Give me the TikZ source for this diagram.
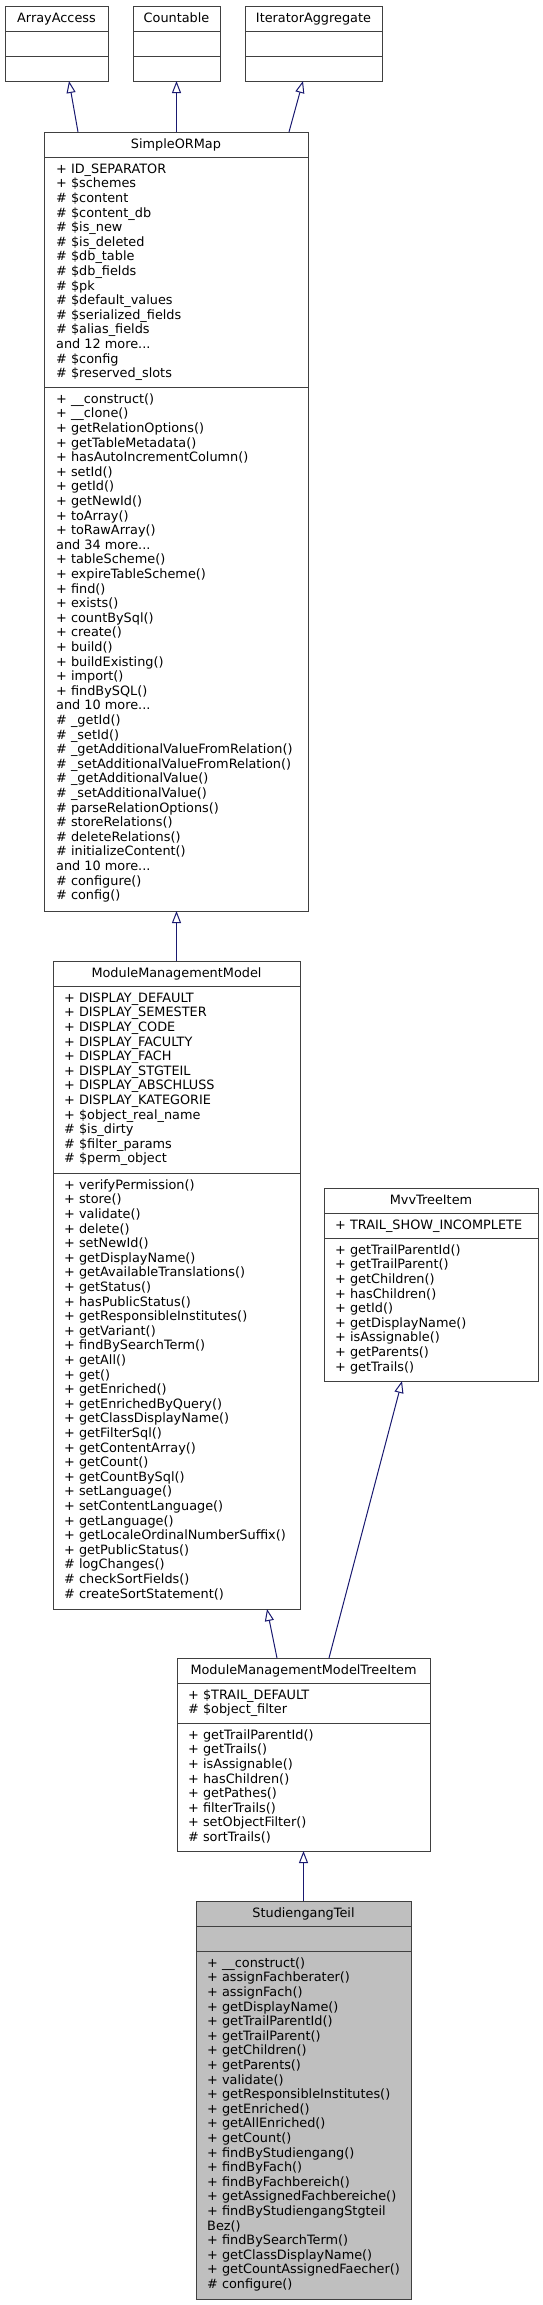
\documentclass[tikz,border=0pt]{standalone}
\usepackage{fontspec}
\setmainfont{DejaVu Sans}
\usetikzlibrary{arrows.meta}

\definecolor{edgeblue}{HTML}{191970}
\definecolor{boxgray}{HTML}{404040}
\definecolor{focusfill}{HTML}{BFBFBF}
\newcommand{\umlfont}{\fontsize{12.85}{14.6}\selectfont}

\tikzset{
  classbox/.style={draw=boxgray, line width=1pt, rectangle, anchor=north west, inner sep=0pt, outer sep=0pt},
  divider/.style={draw=boxgray, line width=1pt},
  classname/.style={anchor=base, inner sep=0pt, font=\umlfont},
  members/.style={anchor=north west, inner sep=0pt, align=left, font=\umlfont},
  inherit/.style={draw=edgeblue, line width=1pt, -{Triangle[open, length=12pt, width=9pt]}},
}

\begin{document}
\begin{tikzpicture}[x=1pt,y=-1pt]
    \useasboundingbox (0,0) rectangle (543,2305);

    % interfaces
    \node[classbox, minimum width=103pt, minimum height=75pt] (aa) at (5,6) {};
    \node[classname] (aa-name) at ([yshift=-16pt]aa.north) {ArrayAccess};
    \draw[divider] ([yshift=-25pt]aa.north west) -- ([yshift=-25pt]aa.north east);
    \draw[divider] ([yshift=-50pt]aa.north west) -- ([yshift=-50pt]aa.north east);

    \node[classbox, minimum width=87pt, minimum height=75pt] (countable) at (133,6) {};
    \node[classname] (countable-name) at ([yshift=-16pt]countable.north) {Countable};
    \draw[divider] ([yshift=-25pt]countable.north west) -- ([yshift=-25pt]countable.north east);
    \draw[divider] ([yshift=-50pt]countable.north west) -- ([yshift=-50pt]countable.north east);

    \node[classbox, minimum width=137pt, minimum height=75pt] (iteragg) at (245,6) {};
    \node[classname] (iteragg-name) at ([yshift=-16pt]iteragg.north) {IteratorAggregate};
    \draw[divider] ([yshift=-25pt]iteragg.north west) -- ([yshift=-25pt]iteragg.north east);
    \draw[divider] ([yshift=-50pt]iteragg.north west) -- ([yshift=-50pt]iteragg.north east);

    % SimpleORMap
    \node[classbox, minimum width=264pt, minimum height=779pt] (sorm) at (44,132) {};
    \node[classname] (sorm-name) at ([yshift=-16pt]sorm.north) {SimpleORMap};
    \draw[divider] ([yshift=-25pt]sorm.north west) -- ([yshift=-25pt]sorm.north east);
    \draw[divider] ([yshift=-255pt]sorm.north west) -- ([yshift=-255pt]sorm.north east);
    \node[members] (sorm-attr) at ([xshift=12pt,yshift=-30.8pt]sorm.north west)
      {\strut+ ID\_SEPARATOR\\+ \$schemes\\\# \$content\\\# \$content\_db\\\# \$is\_new\\
       \# \$is\_deleted\\\# \$db\_table\\\# \$db\_fields\\\# \$pk\\\# \$default\_values\\
       \# \$serialized\_fields\\\# \$alias\_fields\\and 12 more...\\\# \$config\\\# \$reserved\_slots};
    \node[members] (sorm-ops) at ([xshift=12pt,yshift=-260.8pt]sorm.north west)
      {\strut+ \_\_construct()\\+ \_\_clone()\\+ getRelationOptions()\\+ getTableMetadata()\\
       + hasAutoIncrementColumn()\\+ setId()\\+ getId()\\+ getNewId()\\+ toArray()\\+ toRawArray()\\
       and 34 more...\\+ tableScheme()\\+ expireTableScheme()\\+ find()\\+ exists()\\+ countBySql()\\
       + create()\\+ build()\\+ buildExisting()\\+ import()\\+ findBySQL()\\and 10 more...\\
       \# \_getId()\\\# \_setId()\\\# \_getAdditionalValueFromRelation()\\
       \# \_setAdditionalValueFromRelation()\\\# \_getAdditionalValue()\\\# \_setAdditionalValue()\\
       \# parseRelationOptions()\\\# storeRelations()\\\# deleteRelations()\\\# initializeContent()\\
       and 10 more...\\\# configure()\\\# config()};

    % ModuleManagementModel
    \node[classbox, minimum width=247pt, minimum height=648pt] (mmm) at (53,961) {};
    \node[classname] (mmm-name) at ([yshift=-16pt]mmm.north) {ModuleManagementModel};
    \draw[divider] ([yshift=-25pt]mmm.north west) -- ([yshift=-25pt]mmm.north east);
    \draw[divider] ([yshift=-212pt]mmm.north west) -- ([yshift=-212pt]mmm.north east);
    \node[members] (mmm-attr) at ([xshift=11pt,yshift=-30.8pt]mmm.north west)
      {\strut+ DISPLAY\_DEFAULT\\+ DISPLAY\_SEMESTER\\+ DISPLAY\_CODE\\+ DISPLAY\_FACULTY\\
       + DISPLAY\_FACH\\+ DISPLAY\_STGTEIL\\+ DISPLAY\_ABSCHLUSS\\+ DISPLAY\_KATEGORIE\\
       + \$object\_real\_name\\\# \$is\_dirty\\\# \$filter\_params\\\# \$perm\_object};
    \node[members] (mmm-ops) at ([xshift=11pt,yshift=-217.8pt]mmm.north west)
      {\strut+ verifyPermission()\\+ store()\\+ validate()\\+ delete()\\+ setNewId()\\
       + getDisplayName()\\+ getAvailableTranslations()\\+ getStatus()\\+ hasPublicStatus()\\
       + getResponsibleInstitutes()\\+ getVariant()\\+ findBySearchTerm()\\+ getAll()\\+ get()\\
       + getEnriched()\\+ getEnrichedByQuery()\\+ getClassDisplayName()\\+ getFilterSql()\\
       + getContentArray()\\+ getCount()\\+ getCountBySql()\\+ setLanguage()\\
       + setContentLanguage()\\+ getLanguage()\\+ getLocaleOrdinalNumberSuffix()\\
       + getPublicStatus()\\\# logChanges()\\\# checkSortFields()\\\# createSortStatement()};

    % MvvTreeItem
    \node[classbox, minimum width=214pt, minimum height=193pt] (mvv) at (324,1188) {};
    \node[classname] (mvv-name) at ([yshift=-16pt]mvv.north) {MvvTreeItem};
    \draw[divider] ([yshift=-25pt]mvv.north west) -- ([yshift=-25pt]mvv.north east);
    \draw[divider] ([yshift=-50pt]mvv.north west) -- ([yshift=-50pt]mvv.north east);
    \node[members] (mvv-attr) at ([xshift=11pt,yshift=-30.8pt]mvv.north west)
      {\strut+ TRAIL\_SHOW\_INCOMPLETE};
    \node[members] (mvv-ops) at ([xshift=11pt,yshift=-55.8pt]mvv.north west)
      {\strut+ getTrailParentId()\\+ getTrailParent()\\+ getChildren()\\+ hasChildren()\\
       + getId()\\+ getDisplayName()\\+ isAssignable()\\+ getParents()\\+ getTrails()};

    % ModuleManagementModelTreeItem
    \node[classbox, minimum width=253pt, minimum height=193pt] (mmmti) at (177,1658) {};
    \node[classname] (mmmti-name) at ([yshift=-16pt]mmmti.north) {ModuleManagementModelTreeItem};
    \draw[divider] ([yshift=-25pt]mmmti.north west) -- ([yshift=-25pt]mmmti.north east);
    \draw[divider] ([yshift=-65pt]mmmti.north west) -- ([yshift=-65pt]mmmti.north east);
    \node[members] (mmmti-attr) at ([xshift=11pt,yshift=-30.8pt]mmmti.north west)
      {\strut+ \$TRAIL\_DEFAULT\\\# \$object\_filter};
    \node[members] (mmmti-ops) at ([xshift=11pt,yshift=-70.8pt]mmmti.north west)
      {\strut+ getTrailParentId()\\+ getTrails()\\+ isAssignable()\\+ hasChildren()\\
       + getPathes()\\+ filterTrails()\\+ setObjectFilter()\\\# sortTrails()};

    % StudiengangTeil
    \node[classbox, fill=focusfill, minimum width=215pt, minimum height=398pt] (stg) at (196,1901) {};
    \node[classname] (stg-name) at ([yshift=-16pt]stg.north) {StudiengangTeil};
    \draw[divider] ([yshift=-25pt]stg.north west) -- ([yshift=-25pt]stg.north east);
    \draw[divider] ([yshift=-50pt]stg.north west) -- ([yshift=-50pt]stg.north east);
    \node[members] (stg-ops) at ([xshift=11pt,yshift=-55.8pt]stg.north west)
      {\strut+ \_\_construct()\\+ assignFachberater()\\+ assignFach()\\+ getDisplayName()\\
       + getTrailParentId()\\+ getTrailParent()\\+ getChildren()\\+ getParents()\\+ validate()\\
       + getResponsibleInstitutes()\\+ getEnriched()\\+ getAllEnriched()\\+ getCount()\\
       + findByStudiengang()\\+ findByFach()\\+ findByFachbereich()\\+ getAssignedFachbereiche()\\
       + findByStudiengangStgteil\\Bez()\\+ findBySearchTerm()\\+ getClassDisplayName()\\
       + getCountAssignedFaecher()\\\# configure()};

    % inheritance
    \draw[inherit] ([xshift=-98pt]sorm.north) -- ([xshift=12.5pt]aa.south);
    \draw[inherit] (countable.south |- sorm.north) -- (countable.south);
    \draw[inherit] ([xshift=113pt]sorm.north) -- ([xshift=-10.5pt]iteragg.south);
    \draw[inherit] (mmm.north) -- (mmm.north |- sorm.south);
    \draw[inherit] ([xshift=-26.5pt]mmmti.north) -- ([xshift=90.5pt]mmm.south);
    \draw[inherit] ([xshift=25.5pt]mmmti.north) -- ([xshift=-29pt]mvv.south);
    \draw[inherit] (stg.north) -- (stg.north |- mmmti.south);
  \end{tikzpicture}
\end{document}
